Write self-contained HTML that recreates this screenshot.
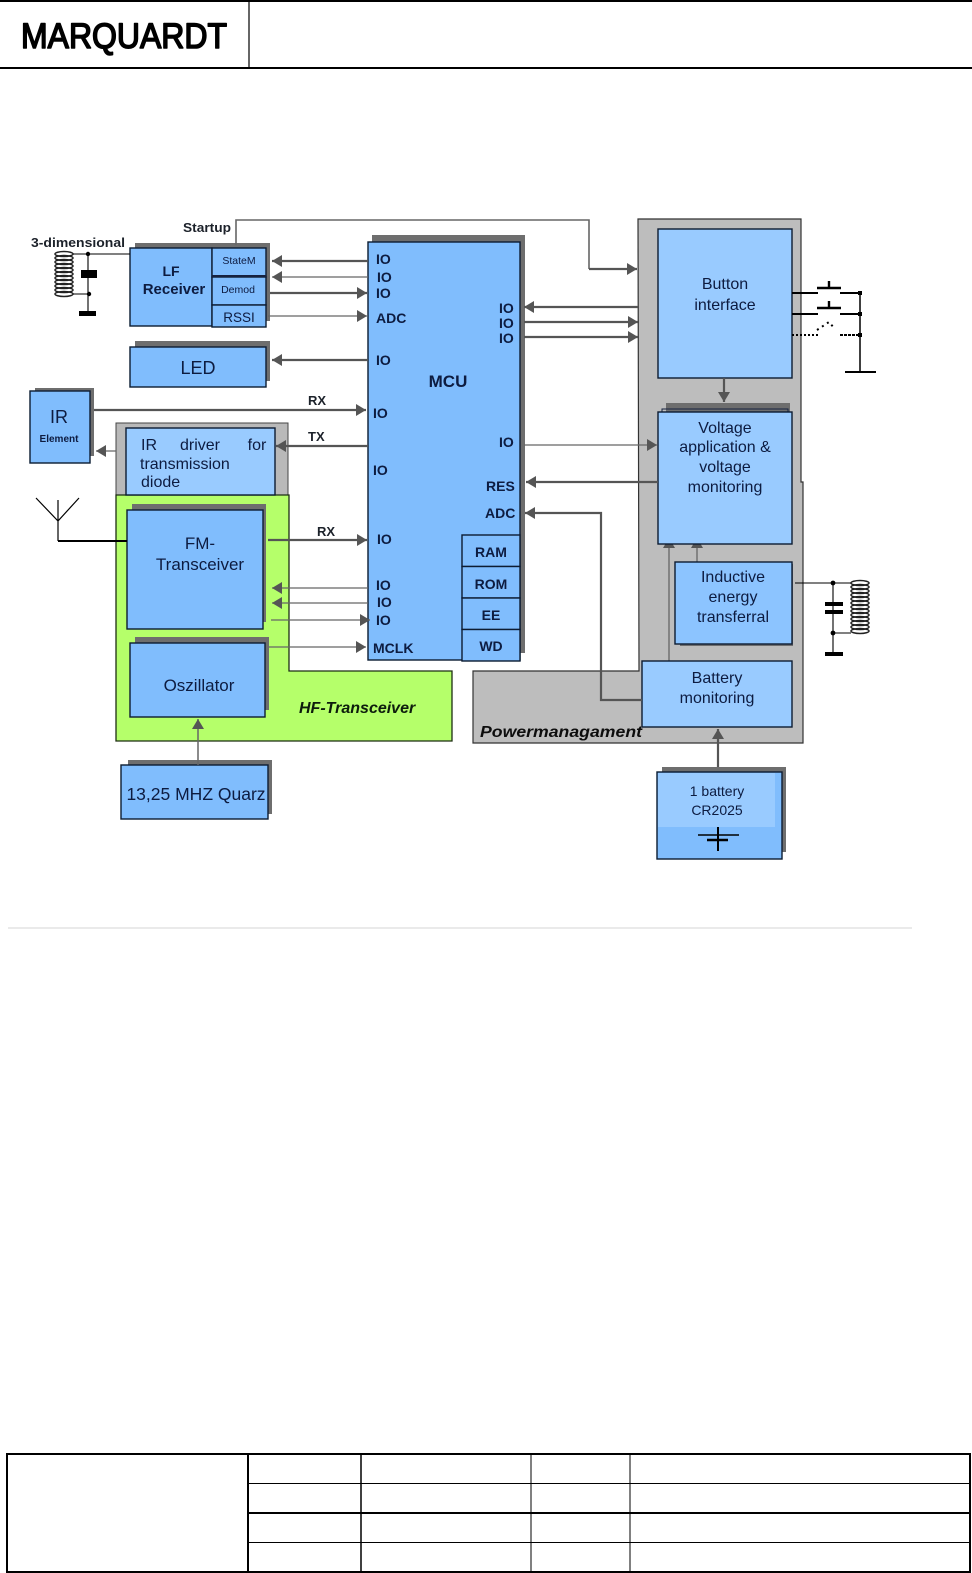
<!DOCTYPE html>
<html><head><meta charset="utf-8"><style>
html,body{margin:0;padding:0;background:#fff}
svg{display:block}
text{font-family:"Liberation Sans",sans-serif;fill:#0c1a40}
.s{fill:#6e6e6e}
.b{fill:#80bdfd;stroke:#0c1a30;stroke-width:1.4}
.l{fill:#99cbff;stroke:#0c1a30;stroke-width:1.4}
.a{stroke:#555;stroke-width:2.2;fill:none}
.t{stroke:#666;stroke-width:1.3;fill:none}
.k{stroke:#000;fill:none}
.m{font-weight:bold;font-size:14px}
.n{font-size:16px;text-anchor:middle}
.d{fill:#1c202a}
</style></head><body>
<svg width="972" height="1573" viewBox="0 0 972 1573" xmlns="http://www.w3.org/2000/svg">
<defs>
<marker id="h" markerUnits="userSpaceOnUse" markerWidth="11" markerHeight="12" refX="10" refY="6" orient="auto"><path d="M0,0L10,6L0,12Z" fill="#555"/></marker>
<filter id="soft" filterUnits="userSpaceOnUse" x="0" y="0" width="972" height="1573"><feGaussianBlur stdDeviation="0.3"/></filter>
<g id="coil" fill="none" stroke="#222" stroke-width="1.5"><ellipse cx="0" cy="0" rx="9" ry="2.5"/><ellipse cx="0" cy="4" rx="9" ry="2.5"/><ellipse cx="0" cy="8" rx="9" ry="2.5"/><ellipse cx="0" cy="12" rx="9" ry="2.5"/><ellipse cx="0" cy="16" rx="9" ry="2.5"/><ellipse cx="0" cy="20" rx="9" ry="2.5"/><ellipse cx="0" cy="24" rx="9" ry="2.5"/><ellipse cx="0" cy="28" rx="9" ry="2.5"/><ellipse cx="0" cy="32" rx="9" ry="2.5"/><ellipse cx="0" cy="36" rx="9" ry="2.5"/><ellipse cx="0" cy="40" rx="9" ry="2.5"/></g>
</defs>

<!-- header -->
<rect x="-2" y="1" width="976" height="67" fill="none" stroke="#000" stroke-width="2"/>
<line x1="249" y1="0" x2="249" y2="68" stroke="#000" stroke-width="1.2"/>
<text x="21" y="48" font-size="35" textLength="206" lengthAdjust="spacingAndGlyphs" stroke="#000" stroke-width="1.6" stroke-linejoin="round" style="fill:#000">MARQUARDT</text>

<!-- footer -->
<rect x="7" y="1454" width="963" height="118" fill="none" stroke="#000" stroke-width="2"/>
<line x1="248" y1="1454" x2="248" y2="1572" stroke="#000" stroke-width="2"/>
<line x1="361" y1="1454" x2="361" y2="1572" stroke="#000" stroke-width="1.5"/>
<line x1="531" y1="1454" x2="531" y2="1572" stroke="#000" stroke-width="1"/>
<line x1="630" y1="1454" x2="630" y2="1572" stroke="#000" stroke-width="1"/>
<line x1="248" y1="1483.5" x2="970" y2="1483.5" stroke="#000" stroke-width="1"/>
<line x1="248" y1="1513" x2="970" y2="1513" stroke="#000" stroke-width="2"/>
<line x1="248" y1="1542.5" x2="970" y2="1542.5" stroke="#000" stroke-width="1"/>

<line x1="8" y1="928" x2="912" y2="928" stroke="#dedede" stroke-width="1.2"/>

<g filter="url(#soft)">
<!-- background groups -->
<rect x="116" y="423" width="172" height="72" fill="#b9b9b9" stroke="#444" stroke-width="1"/>
<path d="M638,219H801V482H803V743H473V671H639Z" fill="#bdbdbd" stroke="#333" stroke-width="1.2"/>
<path d="M116,495H289V671H452V741H116Z" fill="#b5ff6a" stroke="#1c2d12" stroke-width="1.3"/>

<!-- shadows -->
<rect class="s" x="135" y="243" width="135" height="78"/>
<rect class="s" x="135" y="341" width="135" height="40"/>
<rect class="s" x="35" y="388" width="59" height="68"/>
<rect class="s" x="132" y="504" width="134" height="118"/>
<rect class="s" x="135" y="637" width="134" height="73"/>
<rect class="s" x="128" y="760" width="144" height="54"/>
<rect class="s" x="372" y="235" width="153" height="418"/>
<rect class="s" x="666" y="403" width="124" height="10"/>
<rect class="s" x="680" y="564" width="113" height="82"/>
<rect class="s" x="662" y="767" width="124" height="85"/>

<!-- arrows that run beneath the voltage box -->
<path class="t" d="M669,661V538" marker-end="url(#h)"/>
<path class="t" d="M697,562V538" marker-end="url(#h)"/>

<!-- boxes -->
<rect class="b" x="130" y="248" width="82" height="78"/>
<rect class="b" x="212" y="248" width="54" height="29"/>
<rect class="b" x="212" y="277" width="54" height="28"/>
<rect class="b" x="212" y="305" width="54" height="22"/>
<line x1="212" y1="276" x2="266" y2="276" stroke="#14233f" stroke-width="2"/>
<rect class="b" x="130" y="347" width="136" height="40"/>
<rect class="b" x="30" y="391" width="60" height="72"/>
<rect class="l" x="126" y="428" width="149" height="67"/>
<rect class="b" x="127" y="510" width="136" height="119"/>
<rect class="b" x="130" y="643" width="135" height="74"/>
<rect class="b" x="121" y="765" width="147" height="54"/>
<rect class="b" x="368" y="242" width="152" height="418"/>
<rect class="b" x="462" y="535" width="58" height="31.5"/>
<rect class="b" x="462" y="566.5" width="58" height="31.5"/>
<rect class="b" x="462" y="598" width="58" height="31.5"/>
<rect class="b" x="462" y="629.5" width="58" height="31.5"/>
<rect class="l" x="658" y="229" width="134" height="149"/>
<path d="M662,412V409H788V412" fill="none" stroke="#14233f" stroke-width="1"/>
<rect class="l" x="658" y="412" width="134" height="132"/>
<rect class="b" x="675" y="562" width="117" height="82" style="fill:#8cc4ff"/>
<rect class="l" x="642" y="661" width="150" height="66"/>
<rect class="b" x="657" y="772" width="125" height="87"/>
<rect x="658" y="773" width="117" height="54" fill="#99cbff"/>

<!-- startup -->
<path class="t" d="M236,245V220H589V269" style="stroke-width:1.6"/>
<path class="a" d="M589,269H637" marker-end="url(#h)"/>

<!-- arrows left of MCU -->
<path class="a" d="M368,261H272" marker-end="url(#h)"/>
<path class="t" d="M368,277H272" marker-end="url(#h)"/>
<path class="a" d="M270,293H367" marker-end="url(#h)"/>
<path class="t" d="M268,316H367" marker-end="url(#h)"/>
<path class="a" d="M368,360H272" marker-end="url(#h)"/>
<path class="a" d="M94,410H366" marker-end="url(#h)"/>
<path class="a" d="M368,446H276" marker-end="url(#h)"/>
<path class="t" d="M116,451H96" marker-end="url(#h)"/>
<path class="a" d="M268,540H367" marker-end="url(#h)"/>
<path class="t" d="M368,588H272" marker-end="url(#h)"/>
<path class="t" d="M368,603H272" marker-end="url(#h)"/>
<path class="t" d="M271,620H370" marker-end="url(#h)"/>
<path class="t" d="M269,647H366" marker-end="url(#h)"/>
<path class="t" d="M198,765V719" marker-end="url(#h)" style="stroke-width:1.5"/>

<!-- arrows right of MCU -->
<path class="a" d="M638,307H524" marker-end="url(#h)"/>
<path class="a" d="M524,322H638" marker-end="url(#h)"/>
<path class="a" d="M524,337H638" marker-end="url(#h)"/>
<path class="t" d="M524,445H657" marker-end="url(#h)"/>
<path class="a" d="M658,482H526" marker-end="url(#h)"/>
<path class="a" d="M642,700H601V513H525" marker-end="url(#h)"/>
<path class="a" d="M724,378V402" marker-end="url(#h)"/>
<path class="a" d="M718,767V729" marker-end="url(#h)"/>

<!-- antenna -->
<path class="k" d="M36,498L58,521L79,498M58,500V541" stroke-width="1.2"/>
<path class="k" d="M58,541H127" stroke-width="2"/>

<!-- left LC -->
<use href="#coil" x="64" y="254"/>
<path class="k" d="M73,254H130M88,254V313M73,294H88" stroke-width="1.1"/>
<circle cx="88" cy="254" r="2.2"/><circle cx="89" cy="294" r="2.2"/>
<rect x="81" y="270" width="16" height="8"/>
<rect x="79" y="311" width="17" height="5"/>

<!-- buttons -->
<path class="k" d="M792,293H818M840,293H860M792,314H818M840,314H860" stroke-width="2"/>
<path class="k" d="M817,288H841M817,308H841M829,281V288M829,301V308" stroke-width="2.4"/>
<path class="k" d="M792,335H818" stroke-width="2" stroke-dasharray="2 2"/>
<path class="k" d="M840,335H860" stroke-width="2" stroke-dasharray="3 1"/>
<path class="k" d="M817,330L829,322L835,329" stroke-width="2" stroke-dasharray="2 4"/>
<path class="k" d="M860,293V372" stroke-width="1.5"/>
<path class="k" d="M845,372H876" stroke-width="2"/>
<rect x="858" y="291" width="4" height="4"/><rect x="858" y="312" width="4" height="4"/><rect x="858" y="333" width="4" height="4"/>

<!-- right LC -->
<use href="#coil" x="860" y="583"/>
<ellipse cx="860" cy="627" rx="9" ry="2.5" fill="none" stroke="#222" stroke-width="1.5"/>
<ellipse cx="860" cy="631" rx="9" ry="2.5" fill="none" stroke="#222" stroke-width="1.5"/>
<path class="k" d="M795,583H851M833,583V654M833,633H851" stroke-width="1.1"/>
<circle cx="833" cy="583" r="2.4"/><circle cx="833" cy="633" r="2.4"/>
<rect x="825" y="602" width="18" height="4"/><rect x="825" y="610" width="18" height="4"/>
<rect x="825" y="652" width="18" height="4"/>

<!-- battery symbol -->
<path class="k" d="M718,827V851" stroke-width="2"/>
<path class="k" d="M698,835H739" stroke-width="1.6"/>
<path class="k" d="M707,840H728" stroke-width="2.4"/>

<!-- labels -->
<g font-weight="bold" font-size="13">
<text class="d" x="183" y="232" textLength="48" lengthAdjust="spacingAndGlyphs">Startup</text>
<text class="d" x="31" y="247" textLength="94" lengthAdjust="spacingAndGlyphs">3-dimensional</text>
<text x="171" y="276" text-anchor="middle" font-size="14">LF</text>
<text x="174" y="294" text-anchor="middle" font-size="15">Receiver</text>
<text class="d" x="308" y="405" font-size="13">RX</text>
<text class="d" x="308" y="441" font-size="13">TX</text>
<text class="d" x="317" y="536" font-size="13">RX</text>
</g>
<text x="239" y="264" text-anchor="middle" font-size="10.5">StateM</text>
<text x="238" y="293" text-anchor="middle" font-size="10.5">Demod</text>
<text x="239" y="322" text-anchor="middle" font-size="13.5">RSSI</text>
<text class="n" x="198" y="374" style="font-size:18px">LED</text>
<text class="n" x="59" y="423" style="font-size:18px">IR</text>
<text x="59" y="442" text-anchor="middle" font-size="10" font-weight="bold">Element</text>
<text class="n" x="141" y="450" style="text-anchor:start">IR</text>
<text class="n" x="200" y="450">driver</text>
<text class="n" x="257" y="450">for</text>
<text class="n" x="140" y="469" style="text-anchor:start">transmission</text>
<text class="n" x="141" y="487" style="text-anchor:start">diode</text>
<text class="n" x="200" y="549" style="font-size:17px">FM-</text>
<text class="n" x="200" y="570" style="font-size:17px">Transceiver</text>
<text class="n" x="199" y="691" style="font-size:17px">Oszillator</text>
<text class="n" x="196" y="800" style="font-size:17.5px">13,25 MHZ Quarz</text>
<text x="299" y="713" font-size="16" font-weight="bold" font-style="italic" style="fill:#0c1c08">HF-Transceiver</text>
<text x="480" y="737" font-size="16" font-weight="bold" font-style="italic" textLength="162" lengthAdjust="spacingAndGlyphs" style="fill:#111">Powermanagament</text>
<text x="448" y="387" text-anchor="middle" font-size="17" font-weight="bold">MCU</text>

<text class="m" x="376" y="264">IO</text>
<text class="m" x="377" y="282">IO</text>
<text class="m" x="376" y="298">IO</text>
<text class="m" x="376" y="323">ADC</text>
<text class="m" x="376" y="365">IO</text>
<text class="m" x="373" y="418">IO</text>
<text class="m" x="373" y="475">IO</text>
<text class="m" x="499" y="313">IO</text>
<text class="m" x="499" y="328">IO</text>
<text class="m" x="499" y="343">IO</text>
<text class="m" x="499" y="447">IO</text>
<text class="m" x="486" y="491">RES</text>
<text class="m" x="485" y="518">ADC</text>
<text class="m" x="377" y="544">IO</text>
<text class="m" x="376" y="590">IO</text>
<text class="m" x="377" y="607">IO</text>
<text class="m" x="376" y="625">IO</text>
<text class="m" x="373" y="653">MCLK</text>
<text class="m" x="491" y="557" text-anchor="middle">RAM</text>
<text class="m" x="491" y="589" text-anchor="middle">ROM</text>
<text class="m" x="491" y="620" text-anchor="middle">EE</text>
<text class="m" x="491" y="651" text-anchor="middle">WD</text>

<text class="n" x="725" y="289">Button</text>
<text class="n" x="725" y="310">interface</text>
<text class="n" x="725" y="433">Voltage</text>
<text class="n" x="725" y="452">application &amp;</text>
<text class="n" x="725" y="472">voltage</text>
<text class="n" x="725" y="492">monitoring</text>
<text class="n" x="733" y="582">Inductive</text>
<text class="n" x="733" y="602">energy</text>
<text class="n" x="733" y="622">transferral</text>
<text class="n" x="717" y="683">Battery</text>
<text class="n" x="717" y="703">monitoring</text>
<text x="717" y="796" text-anchor="middle" font-size="14">1 battery</text>
<text x="717" y="815" text-anchor="middle" font-size="14">CR2025</text>
</g>
</svg>
</body></html>
